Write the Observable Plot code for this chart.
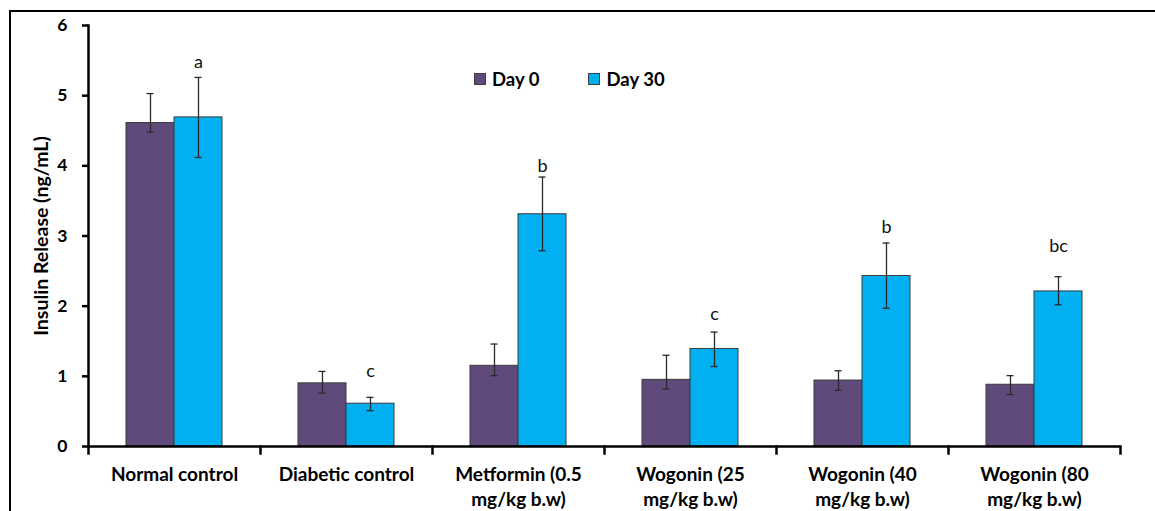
<!DOCTYPE html>
<html>
<head>
<meta charset="utf-8">
<script src="https://cdn.jsdelivr.net/npm/d3@7"></script>
<script src="https://cdn.jsdelivr.net/npm/@observablehq/plot@0.6"></script>
<style>
  html, body { margin: 0; padding: 0; background: #fff; }
  #wrap { position: relative; width: 1155px; height: 511px; overflow: hidden; font-family: Lato, "Open Sans", sans-serif; }
  #border { position: absolute; left: 9px; top: 10px; right: -4px; bottom: -4px; border-top: 2px solid #000; border-left: 2px solid #000; }
  #chart { position: absolute; left: 0; top: 0; }
  #legend { position: absolute; top: 68px; left: 474px; display: flex; gap: 0; font-weight: bold; font-size: 18.5px; color: #000; }
  .item { display: flex; align-items: center; }
  .sw { width: 10px; height: 10px; border: 1px solid #404040; margin-right: 6px; }
</style>
</head>
<body>
<div id="wrap">
  <div id="border"></div>
  <div id="chart"></div>
  <div id="legend"></div>
</div>
<script>
const categories = ["Normal control", "Diabetic control", "Metformin (0.5 mg/kg b.w)", "Wogonin (25 mg/kg b.w)", "Wogonin (40 mg/kg b.w)", "Wogonin (80 mg/kg b.w)"];
const categoryLines = ["Normal control", "Diabetic control", "Metformin (0.5\nmg/kg b.w)", "Wogonin (25\nmg/kg b.w)", "Wogonin (40\nmg/kg b.w)", "Wogonin (80\nmg/kg b.w)"];
const series = ["Day 0", "Day 30"];
const seriesColors = ["#604A7B", "#00B0F0"];
const day0 = [4.61, 0.90, 1.15, 0.95, 0.94, 0.88];
const day0Low = [4.48, 0.76, 1.01, 0.82, 0.80, 0.74];
const day0High = [5.03, 1.07, 1.46, 1.30, 1.08, 1.01];
const day30 = [4.69, 0.61, 3.31, 1.39, 2.43, 2.21];
const day30Low = [4.12, 0.51, 2.79, 1.14, 1.97, 2.02];
const day30High = [5.26, 0.70, 3.84, 1.63, 2.90, 2.42];
const letters = ["a", "c", "b", "c", "b", "bc"];
const letterY = [5.47, 1.07, 4.00, 1.88, 3.13, 2.86];
const yTicks = [0, 1, 2, 3, 4, 5, 6];

const rows = [];
categories.forEach((c, i) => {
  rows.push({category: c, series: series[0], value: day0[i], low: day0Low[i], high: day0High[i]});
  rows.push({category: c, series: series[1], value: day30[i], low: day30Low[i], high: day30High[i]});
});
const letterRows = categories.map((c, i) => ({category: c, series: series[1], y: letterY[i], text: letters[i]}));

const W = 1155, H = 511, mt = 25, mb = 65, ml = 86, mr = 33;
const plotH = H - mt - mb;
const axisW = 2.5;

const chart = Plot.plot({
  width: W, height: H,
  marginTop: mt, marginBottom: mb, marginLeft: ml, marginRight: mr,
  style: {fontFamily: "Lato, 'Open Sans', sans-serif", background: "transparent", color: "#000"},
  fx: {domain: categories, padding: 0, label: null},
  x: {domain: series, paddingInner: 0, paddingOuter: 0.762, axis: null},
  y: {domain: [0, 6], axis: null},
  color: {domain: series, range: seriesColors},
  marks: [
    Plot.barY(rows, {fx: "category", x: "series", y: "value", fill: "series", stroke: "#3a3a3a", strokeWidth: 1}),
    Plot.ruleX(rows, {fx: "category", x: "series", y1: "low", y2: "high", stroke: "#2a2a2a", strokeWidth: 1.3}),
    Plot.tickY(rows, {fx: "category", x: "series", y: "low", stroke: "#2a2a2a", strokeWidth: 1.3, insetLeft: 20.5, insetRight: 20.5}),
    Plot.tickY(rows, {fx: "category", x: "series", y: "high", stroke: "#2a2a2a", strokeWidth: 1.3, insetLeft: 20.5, insetRight: 20.5}),
    Plot.text(letterRows, {fx: "category", x: "series", y: "y", text: "text", fontSize: 18, fill: "#111"}),
    Plot.ruleY([0], {stroke: "#000", strokeWidth: axisW}),
    Plot.frame({anchor: "left", facetAnchor: "left", stroke: "#000", strokeWidth: axisW}),
    Plot.frame({anchor: "left", insetTop: plotH, insetBottom: -7, stroke: "#000", strokeWidth: axisW}),
    Plot.frame({anchor: "right", facetAnchor: "right", insetTop: plotH, insetBottom: -7, stroke: "#000", strokeWidth: axisW}),
    Plot.axisY({ticks: yTicks, tickFormat: d => String(d), tickSize: 6, tickPadding: 15, strokeWidth: axisW, stroke: "#000", fontSize: 17.5, fontWeight: "bold", label: null}),
    Plot.axisY({ticks: [], tickSize: 0, fontSize: 19.5, fontWeight: "bold",
      label: "Insulin Release (ng/mL)", labelAnchor: "center", labelArrow: "none", labelOffset: 54}),
    Plot.axisFx({anchor: "bottom", tickSize: 0, tickPadding: 17, fontSize: 19, fontWeight: "bold", label: null, lineHeight: 1.32,
      tickFormat: d => categoryLines[categories.indexOf(d)]})
  ]
});
document.getElementById("chart").appendChild(chart);

const legend = document.getElementById("legend");
series.forEach((s, i) => {
  const it = document.createElement("div");
  it.className = "item";
  it.style.marginRight = i === 0 ? "49px" : "0";
  const sw = document.createElement("div");
  sw.className = "sw";
  sw.style.background = seriesColors[i];
  const t = document.createElement("span");
  t.textContent = s;
  it.appendChild(sw); it.appendChild(t);
  legend.appendChild(it);
});
</script>
</body>
</html>
